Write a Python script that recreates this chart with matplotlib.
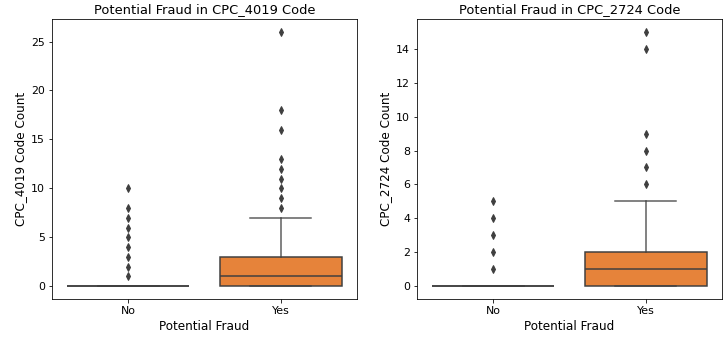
import matplotlib.pyplot as plt

# Data (box stats per group)
groups = ["No", "Yes"]

# CPC_4019
q1_4019 = [0, 0]
med_4019 = [0, 1]
q3_4019 = [0, 3]
whislo_4019 = [0, 0]
whishi_4019 = [0, 7]
fliers_4019 = [[1, 2, 3, 4, 5, 6, 7, 8, 10],
               [8, 9, 10, 11, 12, 13, 16, 18, 26]]

# CPC_2724
q1_2724 = [0, 0]
med_2724 = [0, 1]
q3_2724 = [0, 2]
whislo_2724 = [0, 0]
whishi_2724 = [0, 5]
fliers_2724 = [[1, 2, 3, 4, 5],
               [6, 7, 8, 9, 14, 15]]

box_colors = ["#3274a1", "#e6833a"]
gray = "#3f3f3f"

plt.rcParams["font.family"] = "DejaVu Sans"
fig = plt.figure(figsize=(728 / 72, 337 / 72), dpi=72)
ax1 = fig.add_axes([52 / 728, 38 / 337, 305 / 728, 280 / 337])
ax2 = fig.add_axes([417 / 728, 38 / 337, 305 / 728, 280 / 337])


def draw(ax, q1, med, q3, lo, hi, fliers, code):
    stats = []
    for i, g in enumerate(groups):
        stats.append({"label": g, "q1": q1[i], "med": med[i], "q3": q3[i],
                      "whislo": lo[i], "whishi": hi[i], "fliers": fliers[i]})
    bp = ax.bxp(stats, positions=[0, 1], widths=0.8, capwidths=0.4,
                patch_artist=True, showfliers=True,
                boxprops=dict(edgecolor=gray, linewidth=1.5),
                whiskerprops=dict(color=gray, linewidth=1.5, alpha=0.85),
                capprops=dict(color=gray, linewidth=1.5, alpha=0.85),
                medianprops=dict(color=gray, linewidth=1.5),
                flierprops=dict(marker="d", markersize=5.5, markerfacecolor=gray,
                                markeredgecolor=gray, linestyle="none"))
    for patch, c in zip(bp["boxes"], box_colors):
        patch.set_facecolor(c)
    ax.set_xlim(-0.5, 1.5)
    ax.set_title(f"Potential Fraud in {code} Code", fontsize=13)
    ax.set_xlabel("Potential Fraud", fontsize=12)
    ax.set_ylabel(f"{code} Code Count", fontsize=12)
    ax.tick_params(labelsize=11, length=3.5)


draw(ax1, q1_4019, med_4019, q3_4019, whislo_4019, whishi_4019, fliers_4019, "CPC_4019")
draw(ax2, q1_2724, med_2724, q3_2724, whislo_2724, whishi_2724, fliers_2724, "CPC_2724")
ax1.set_yticks([0, 5, 10, 15, 20, 25])
ax2.set_yticks([0, 2, 4, 6, 8, 10, 12, 14])

fig.savefig("out.png", dpi=72)
